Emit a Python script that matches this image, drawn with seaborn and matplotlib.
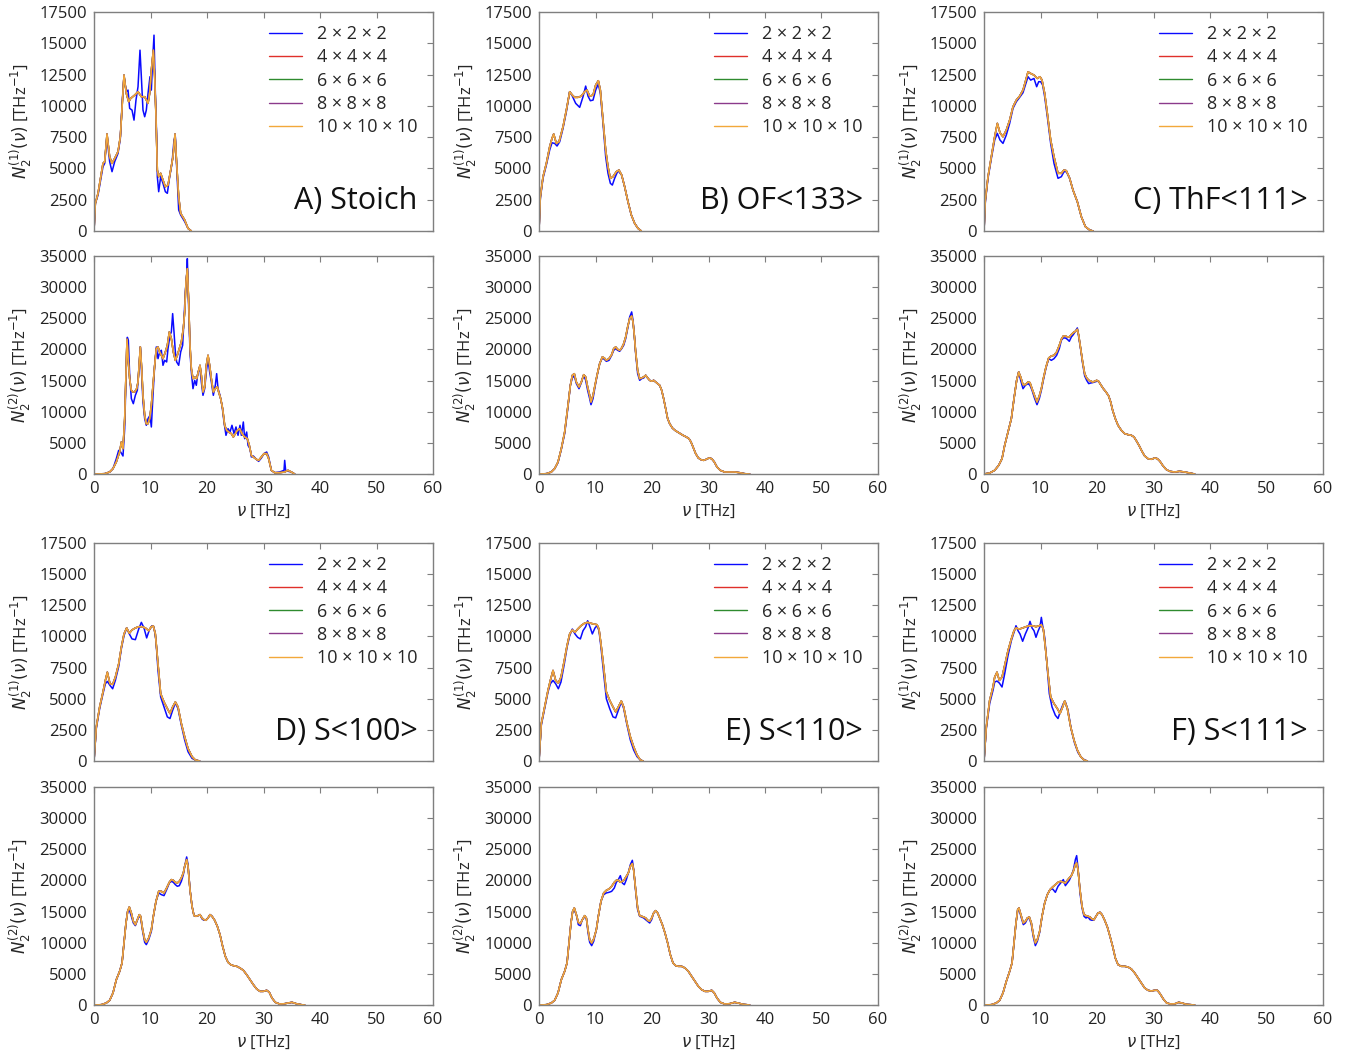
import matplotlib
matplotlib.use("Agg")
import matplotlib.pyplot as plt
import seaborn as sns

# ---------------- DATA (frequency in THz, DOS in THz^-1) ----------------
series_labels = ["2 × 2 × 2", "4 × 4 × 4", "6 × 6 × 6", "8 × 8 × 8", "10 × 10 × 10"]
panel_titles = ["A) Stoich", "B) OF<133>", "C) ThF<111>", "D) S<100>", "E) S<110>", "F) S<111>"]
x_ticks = [0, 10, 20, 30, 40, 50, 60]
n1_ticks = [0, 2500, 5000, 7500, 10000, 12500, 15000, 17500]
n2_ticks = [0, 5000, 10000, 15000, 20000, 25000, 30000, 35000]

# ---- A) Stoich ----
A1_freq_2 = [0.00,0.24,0.71,1.59,1.89,2.30,2.77,3.19,3.66,4.25,4.66,5.01,5.31,5.72,6.02,6.31,6.73,7.08,7.43,7.79,8.14,8.38,8.67,8.97,9.26,9.56,9.91,10.15,10.38,10.62,10.86,11.09,11.21,11.45,11.80,12.21,12.63,12.98,13.39,13.81,14.16,14.40,14.63,14.99,15.34,16.05,16.64,17.23]
A1_dos_2 = [0,2210,2870,5140,5400,7530,5540,4740,5540,6200,7400,10460,12330,11130,11260,9800,9660,8860,10460,11530,14450,12330,9660,9130,9660,10990,12330,11260,13660,15650,10990,7530,4340,3140,4340,3810,3140,3010,4340,5400,7270,7530,5140,1680,1280,750,210,0]
A1_freq_10 = [0.00,0.24,0.71,1.59,1.89,2.30,2.77,3.19,3.66,4.25,4.66,5.01,5.31,5.72,6.14,6.49,7.20,7.79,8.38,8.97,9.56,9.85,10.15,10.50,10.74,10.97,11.21,11.45,11.80,12.21,12.63,13.10,13.57,13.98,14.34,14.63,14.99,15.34,16.05,16.64,17.23]
A1_dos_10 = [0,2200,3010,5400,5540,7750,5940,5400,5800,6340,7530,10200,12460,10990,10330,10590,10860,11130,10730,10730,10200,10990,12860,14450,12330,9130,4870,4340,4610,4070,3540,3670,4870,5940,7750,5400,2740,1410,880,210,0]

A2_freq_2 = [0.00,1.89,2.77,3.36,3.95,4.37,4.72,5.13,5.43,5.66,5.90,6.08,6.31,6.61,6.96,7.32,7.67,8.02,8.20,8.44,8.67,8.97,9.26,9.56,9.91,10.15,10.44,10.74,11.03,11.33,11.62,11.92,12.21,12.51,12.86,13.10,13.45,13.69,13.92,14.16,14.40,14.63,14.99,15.34,15.69,15.93,16.17,16.40,16.52,16.76,16.99,17.23,17.52,17.82,18.11,18.41,18.76,19.00,19.29,19.59,19.88,20.18,20.47,20.77,21.12,21.47,21.71,21.95,22.30,22.65,23.01,23.36,23.72,24.07,24.42,24.78,25.13,25.49,25.84,26.08,26.43,26.67,27.02,27.26,27.61,27.85,28.20,28.73,29.14,29.62,30.09,30.56,30.91,31.39,31.98,32.86,33.63,33.75,33.92,34.34,34.93,35.52]
A2_dos_2 = [0,50,320,860,2460,3800,3530,2890,7280,15310,21940,21470,15850,12100,11290,12630,13440,17450,20400,15850,11560,8890,7820,8890,9420,7550,12630,17450,20400,18520,19590,19860,17450,18250,17990,20130,22270,22800,25750,22800,19590,17990,17450,19590,20660,24940,29230,31900,34580,26550,19590,16380,13700,15040,14240,16380,16920,14770,12630,13700,16380,18520,16380,14770,12630,14240,16110,13700,12630,11030,8350,6210,7280,6740,7820,6480,7550,6210,7820,6210,8350,5670,6740,4600,4070,2730,2890,2360,2030,2570,3270,3530,2730,590,210,320,590,2190,590,430,320,0]
A2_freq_10 = [0.00,1.89,2.77,3.36,3.95,4.54,4.84,5.13,5.43,5.60,5.84,6.08,6.31,6.61,6.90,7.20,7.55,7.79,8.02,8.20,8.44,8.67,8.97,9.26,9.56,9.85,10.15,10.44,10.74,11.03,11.33,11.62,11.92,12.21,12.63,12.98,13.33,13.69,14.04,14.40,14.75,15.10,15.46,15.81,16.05,16.28,16.52,16.76,16.99,17.23,17.52,17.82,18.17,18.53,18.76,19.00,19.29,19.59,19.88,20.18,20.47,20.77,21.12,21.47,21.83,22.06,22.42,22.77,23.13,23.48,23.84,24.31,24.66,25.01,25.37,25.78,26.19,26.67,27.14,27.49,27.85,28.20,28.73,29.14,29.62,30.09,30.56,30.91,31.39,31.98,32.86,33.75,34.34,34.93,35.52]
A2_dos_10 = [0,50,320,860,1930,3530,5140,4070,8890,14240,21630,17990,15310,13440,13170,13170,13700,14770,17990,20400,16920,12630,9420,8080,8080,8890,11030,14240,17450,20130,20400,19590,19060,18520,19590,20660,22800,21730,19590,18250,19060,20130,21200,23340,26020,30830,32970,27620,20660,16920,15310,15580,15310,16650,17450,15850,13170,13970,17450,19060,17450,15310,13170,13700,13970,13170,12100,10490,7820,7010,6740,6480,5940,6480,7010,7280,6480,5940,5670,4600,3000,2730,2360,2190,2730,3270,3270,2460,590,210,210,320,590,320,0]

# ---- B) OF<133> ----
B1_freq_2 = [0.00,0.24,0.71,1.30,1.89,2.30,2.77,3.19,3.66,4.25,4.84,5.43,5.90,6.49,7.20,7.79,8.26,8.67,9.09,9.56,10.03,10.50,10.86,11.33,11.80,12.21,12.63,12.98,13.39,13.98,14.63,15.16,15.75,16.34,16.93,17.52,18.11]
B1_dos_2 = [0,2610,4210,5270,6470,7050,7000,6790,7130,8200,9530,11130,10780,10200,9880,10730,11580,10780,10410,10460,11260,11740,10990,8600,5940,4610,3810,3670,4210,4820,4470,3540,2340,1280,610,210,0]
B1_freq_10 = [0.00,0.24,0.71,1.30,1.89,2.30,2.60,3.07,3.54,4.25,4.84,5.43,5.90,6.31,6.90,7.49,8.08,8.50,8.97,9.56,10.03,10.50,10.86,11.33,11.80,12.21,12.63,13.10,13.69,14.16,14.63,15.16,15.75,16.34,16.93,17.52,18.11]
B1_dos_10 = [0,2740,4340,5400,6730,7400,7750,7000,7130,8330,9660,11130,10860,10680,10680,10780,11130,11260,10780,10860,11660,12010,11260,8860,6470,5140,4210,4340,4740,4870,4470,3540,2340,1280,610,210,0]

B2_freq = [0.00,1.30,2.18,2.77,3.36,3.95,4.54,5.13,5.55,5.90,6.25,6.61,7.08,7.49,7.91,8.26,8.61,8.97,9.20,9.56,9.91,10.27,10.74,11.21,11.56,11.92,12.39,12.86,13.22,13.57,13.92,14.28,14.63,14.99,15.34,15.69,16.05,16.40,16.64,16.87,17.11,17.46,17.82,18.17,18.53,18.88,19.23,19.59,19.94,20.29,20.65,21.00,21.36,21.71,22.06,22.42,22.77,23.13,23.60,24.07,24.54,25.01,25.49,26.08,26.55,26.90,27.26,27.73,28.20,28.67,29.14,29.62,30.09,30.56,31.03,31.50,32.09,32.86,33.75,34.63,35.52,36.40,37.29]
B2_dos_2 = [0,50,320,860,1820,3960,6480,10760,14240,15420,15740,14510,13700,14670,15850,15040,13440,12100,11130,12100,13970,15740,17720,18630,18410,18090,18250,19060,19860,20130,19860,19700,20130,20660,21730,23340,25210,26020,24680,22270,19320,16110,15040,15310,15420,15850,15420,15040,14880,15040,14770,14510,14240,13440,12100,10490,8890,8080,7390,7010,6740,6480,6210,5940,5670,5140,4340,3270,2570,2300,2190,2360,2570,2460,1930,1120,590,320,320,320,210,50,0]
B2_dos_10 = [0,50,320,860,1930,4070,6740,11030,14240,15850,16110,14770,13970,14770,15950,15580,13970,12630,11560,12630,14240,15850,17720,18790,18630,18250,18520,19160,20130,20400,20020,19860,20230,20930,22000,23610,24940,25370,24410,22270,19590,16650,15310,15420,15580,15850,15420,15040,14880,15040,14770,14510,14240,13440,12100,10490,8890,8080,7390,7010,6740,6480,6210,5940,5670,5140,4340,3270,2570,2300,2190,2360,2570,2460,1930,1120,590,320,320,320,210,50,0]

# ---- C) ThF<111> ----
C1_freq_2 = [0.00,0.24,0.71,1.30,1.89,2.36,2.83,3.36,3.95,4.54,5.13,5.72,6.31,6.90,7.32,7.79,8.26,8.85,9.32,9.68,10.03,10.38,10.74,11.21,11.80,12.39,13.10,13.69,14.16,14.57,15.16,15.75,16.52,17.23,17.94,18.70,19.29]
C1_dos_2 = [0,2340,4210,5800,7270,7800,7270,7000,7670,8600,9800,10330,10680,11050,11660,12330,12060,12190,11530,11930,11930,11660,10730,9130,7000,5400,4210,4340,4740,4740,4210,3270,2340,1140,350,80,0]
C1_freq_10 = [0.00,0.24,0.71,1.30,1.89,2.36,2.83,3.36,3.95,4.54,5.13,5.72,6.31,6.90,7.32,7.79,8.26,8.85,9.44,9.91,10.27,10.74,11.21,11.80,12.39,13.10,13.69,14.16,14.57,15.16,15.75,16.52,17.23,17.94,18.70,19.29]
C1_dos_10 = [0,2480,4340,5940,7530,8600,7850,7530,8070,8860,9930,10460,10780,11260,11930,12720,12590,12460,12190,12330,12060,11000,9400,7270,5940,4610,4610,4870,4820,4210,3270,2340,1140,350,80,0]

C2_freq = [0.00,1.00,1.89,2.60,3.19,3.66,4.25,4.84,5.31,5.78,6.14,6.49,6.90,7.32,7.79,8.14,8.50,8.97,9.38,9.79,10.15,10.50,10.97,11.45,11.92,12.39,12.86,13.33,13.69,14.04,14.40,14.75,15.10,15.46,15.81,16.17,16.52,16.76,17.11,17.46,17.82,18.17,18.53,18.88,19.23,19.59,19.94,20.29,20.65,21.12,21.59,22.06,22.42,22.77,23.24,23.72,24.31,24.90,25.49,26.08,26.55,27.02,27.49,27.96,28.44,29.03,29.62,30.21,30.68,31.15,31.62,32.21,32.86,33.75,34.63,35.52,36.40,37.29]
C2_dos_2 = [0,160,590,1390,2460,4600,6740,8890,12100,15040,16380,15040,13700,14240,14510,14240,13440,12100,11130,12100,13440,15040,17020,18520,18250,18520,19060,20130,21470,21840,21840,21630,21300,22000,22380,22910,23450,22000,20020,17720,15740,15040,14510,14610,14670,14770,14880,14880,14350,13700,13170,12530,11560,10220,8890,7820,7010,6480,6320,6210,5940,5250,4500,3640,2890,2460,2360,2570,2460,2030,1390,750,430,320,430,320,160,0]
C2_dos_10 = [0,160,590,1390,2460,4600,6740,8890,12100,15040,16380,15580,14350,14350,14770,14670,13700,12530,11560,12530,13700,15310,17180,18630,18950,19060,19590,20660,21630,22160,22160,22000,22000,22380,22700,22910,23230,22270,20130,17990,16110,15420,15040,14930,14770,14880,15040,14880,14350,13700,13170,12530,11560,10220,8890,7820,7010,6480,6320,6210,5940,5250,4500,3640,2890,2460,2360,2570,2460,2030,1390,750,430,320,430,320,160,0]

# ---- D) S<100> ----
D1_freq_2 = [0.00,0.41,1.00,1.59,2.01,2.36,2.83,3.30,3.78,4.37,4.84,5.31,5.78,6.25,6.73,7.32,7.91,8.38,8.85,9.32,9.79,10.27,10.62,10.97,11.33,11.80,12.39,12.98,13.45,13.92,14.40,14.87,15.46,16.05,16.64,17.35,17.94,18.70]
D1_dos_2 = [0,2610,4210,5400,6200,6390,6070,5800,6470,7590,9000,10060,10680,10200,9800,9740,10590,11130,10680,9880,10520,10860,10730,9660,7270,5140,4340,3540,3410,4070,4660,4210,2870,1680,750,210,80,0]
D1_freq_10 = [0.00,0.41,1.00,1.59,2.01,2.36,2.83,3.30,3.78,4.37,4.84,5.31,5.78,6.25,6.73,7.32,7.91,8.50,9.09,9.68,10.15,10.50,10.86,11.33,11.80,12.39,12.98,13.45,13.92,14.40,14.87,15.46,16.05,16.64,17.35,17.94,18.70]
D1_dos_10 = [0,2740,4340,5540,6470,7130,6200,6150,6730,7800,9130,10200,10680,10250,10520,10680,10780,10780,10680,10460,10780,10840,10200,7800,5400,4740,4210,3810,4340,4740,4340,3010,1940,1010,350,80,0]

D2_freq = [0.00,1.30,2.18,2.77,3.36,3.95,4.54,4.96,5.31,5.66,5.96,6.25,6.61,6.96,7.32,7.67,8.02,8.26,8.61,8.97,9.26,9.68,10.15,10.50,10.97,11.45,11.92,12.39,12.86,13.33,13.69,14.04,14.40,14.75,15.10,15.46,15.81,16.05,16.40,16.64,16.99,17.35,17.70,18.05,18.41,18.76,19.12,19.47,19.82,20.18,20.53,20.89,21.36,21.83,22.30,22.77,23.24,23.72,24.19,24.66,25.25,25.84,26.43,27.02,27.61,28.20,28.79,29.38,29.97,30.56,31.03,31.50,32.09,32.86,33.75,34.34,35.04,35.81,36.70,37.29]
D2_dos_2 = [0,50,320,750,1930,4070,5410,6740,9960,13170,15040,15310,14240,13170,12740,13600,14350,13970,11830,10060,9690,10490,11830,14130,16650,17990,17720,17560,18520,19590,19860,19700,19320,19060,19160,19860,20930,22270,23770,22540,18520,15850,14350,14240,14350,14510,13810,13600,13700,13970,14510,14240,13600,12630,11290,9420,7820,6850,6480,6320,6210,5940,5570,4870,4070,3270,2570,2190,2190,2360,2030,1120,430,160,210,320,430,210,50,0]
D2_dos_10 = [0,50,320,750,1930,4070,5410,6740,9960,13170,15040,15740,14770,13440,12900,13700,14510,14240,12100,10490,10060,10760,12100,14240,16650,18250,18250,17990,18790,19700,20130,20020,19700,19590,19860,20400,21200,22270,23340,22270,18520,15850,14350,14240,14350,14510,13970,13700,13600,13970,14510,14240,13600,12630,11290,9420,7820,6850,6480,6320,6210,5940,5570,4870,4070,3270,2570,2190,2190,2360,2030,1120,430,160,210,320,430,210,50,0]

# ---- E) S<110> ----
E1_freq_2 = [0.00,0.41,1.00,1.59,2.01,2.48,2.95,3.42,3.89,4.48,4.96,5.43,5.90,6.37,6.84,7.32,7.79,8.26,8.61,9.09,9.44,9.91,10.27,10.62,10.97,11.45,11.92,12.51,13.10,13.57,14.04,14.57,14.99,15.58,16.17,16.76,17.35,17.94,18.41]
E1_dos_2 = [0,2870,4210,5540,6200,6470,6200,5800,6340,7800,9130,10060,10590,10200,9930,9800,10460,10780,11260,10680,10200,10680,10860,10460,9130,7000,5000,4210,3540,3460,4070,4740,4210,2870,1680,880,350,80,0]
E1_freq_10 = [0.00,0.41,1.00,1.59,2.01,2.48,2.95,3.42,3.89,4.48,4.96,5.43,5.90,6.37,6.84,7.43,8.02,8.61,9.20,9.79,10.27,10.62,10.97,11.45,11.92,12.51,13.10,13.57,14.04,14.57,14.99,15.58,16.17,16.76,17.35,17.94,18.41]
E1_dos_10 = [0,3010,4340,5670,6470,7270,6470,6260,6730,8070,9260,10200,10520,10330,10590,10860,11050,11130,11050,10990,10940,10590,9400,7530,5540,4870,4340,3940,4340,4820,4340,3010,1940,1140,480,80,0]

E2_freq = [0.00,1.30,2.18,2.77,3.36,3.95,4.54,4.96,5.31,5.66,5.96,6.25,6.61,6.96,7.32,7.67,8.08,8.38,8.67,8.97,9.32,9.68,10.15,10.50,10.97,11.45,11.92,12.39,12.86,13.33,13.69,14.04,14.40,14.75,15.10,15.46,15.81,16.17,16.52,16.76,17.11,17.46,17.82,18.17,18.53,18.88,19.23,19.59,19.94,20.29,20.65,21.00,21.36,21.83,22.30,22.77,23.24,23.72,24.19,24.66,25.25,25.84,26.43,27.02,27.61,28.20,28.79,29.38,29.97,30.56,31.03,31.50,32.09,32.86,33.75,34.63,35.22,36.11,37.29]
E2_dos_2 = [0,50,320,750,1930,4070,5410,6740,9960,13170,15040,15200,14510,12900,12740,13700,14130,13970,11670,10060,9530,10220,12100,14240,16650,17720,17990,18090,18250,18790,19700,20130,20770,19590,19320,20130,21200,22540,23230,21730,18250,15310,14240,14130,13970,13700,13440,13170,13700,14770,15150,14770,13970,12900,11560,9960,8080,6740,6320,6210,6210,5940,5410,4600,3800,3000,2460,2190,2190,2360,1930,1120,430,160,210,430,320,110,0]
E2_dos_10 = [0,50,320,750,1930,4070,5410,6740,9960,13170,15040,15580,14510,13280,13060,13700,14350,13970,12100,10490,9960,10600,12100,14240,16650,17990,18410,18630,19060,19700,20020,20020,19700,19860,20130,20660,21200,22270,22700,21630,18520,15580,14350,14240,14130,13970,13600,13440,13970,14770,15150,14770,13970,12900,11560,9960,8080,6740,6320,6210,6210,5940,5410,4600,3800,3000,2460,2190,2190,2360,1930,1120,430,160,210,430,320,110,0]

# ---- F) S<111> ----
F1_freq_2 = [0.00,0.41,1.00,1.59,1.89,2.30,2.71,3.19,3.66,4.25,4.84,5.31,5.66,6.02,6.37,6.84,7.32,7.79,8.14,8.50,8.85,9.20,9.56,9.91,10.15,10.38,10.74,11.09,11.56,12.04,12.63,13.10,13.57,14.04,14.40,14.87,15.46,16.05,16.64,17.23,17.82,18.29]
F1_dos_2 = [0,2610,4610,5670,6340,6420,6260,5940,7000,8470,9660,10330,10860,10460,10200,9610,10200,10680,11210,10680,10460,9930,10410,10780,11530,10860,9930,8070,5400,4340,3670,3410,4070,4610,4740,4070,2480,1410,670,290,80,0]
F1_freq_10 = [0.00,0.41,1.00,1.59,1.89,2.30,2.71,3.19,3.66,4.25,4.84,5.31,5.66,6.25,6.84,7.43,8.02,8.61,9.20,9.79,10.15,10.50,10.86,11.33,11.80,12.39,12.98,13.45,13.92,14.28,14.75,15.34,15.93,16.52,17.11,17.70,18.29]
F1_dos_10 = [0,2740,4870,5940,6730,7130,6470,6730,7670,8860,9800,10460,10680,10590,10680,10780,10860,10860,10780,10860,10940,10590,9130,7000,5140,4610,4210,3810,4340,4820,4210,2740,1680,880,350,80,0]

F2_freq = [0.00,1.30,2.18,2.77,3.36,3.95,4.54,4.96,5.31,5.66,5.96,6.19,6.61,6.96,7.32,7.67,8.02,8.38,8.73,9.09,9.44,9.85,10.27,10.74,11.21,11.68,12.15,12.63,13.10,13.57,14.04,14.40,14.75,15.10,15.46,15.81,16.17,16.40,16.64,16.99,17.35,17.70,18.05,18.41,18.76,19.12,19.47,19.82,20.18,20.53,20.89,21.36,21.83,22.30,22.77,23.24,23.72,24.31,24.90,25.49,26.08,26.67,27.26,27.85,28.44,29.03,29.62,30.21,30.68,31.15,31.74,32.33,33.04,33.86,34.45,35.04,35.81,37.29]
F2_dos_2 = [0,50,320,750,1930,3800,5410,6740,9960,13170,15040,15420,13970,12900,13170,13810,13970,12900,10920,9530,10220,11670,14240,16380,17720,18520,18630,18090,19060,19590,20130,19160,19590,20020,20770,21630,23340,23980,22000,17990,15580,14240,13970,14130,13700,13600,13700,14240,14770,14880,14510,13600,12530,11030,9420,7550,6480,6210,6210,6100,5780,5140,4340,3530,2730,2360,2250,2360,2360,1820,960,320,160,210,430,320,110,0]
F2_dos_10 = [0,50,320,750,1930,3800,5410,6740,9960,13170,15310,15580,14240,13170,13440,13970,14130,13170,11290,9960,10490,11830,14240,16380,17720,18520,18950,19320,19700,19860,19700,19590,20020,20400,20770,21470,22540,22800,21730,18520,15850,14510,14350,14240,14130,13810,13700,14240,14770,14880,14510,13600,12530,11030,9420,7550,6480,6210,6210,6100,5780,5140,4340,3530,2730,2360,2250,2360,2360,1820,960,320,160,210,430,320,110,0]

# ---------------- assemble (4,6,8 supercells coincide with converged curve) ----------------
N1_sets = [
    (A1_freq_2, A1_dos_2, A1_freq_10, A1_dos_10),
    (B1_freq_2, B1_dos_2, B1_freq_10, B1_dos_10),
    (C1_freq_2, C1_dos_2, C1_freq_10, C1_dos_10),
    (D1_freq_2, D1_dos_2, D1_freq_10, D1_dos_10),
    (E1_freq_2, E1_dos_2, E1_freq_10, E1_dos_10),
    (F1_freq_2, F1_dos_2, F1_freq_10, F1_dos_10),
]
N2_sets = [
    (A2_freq_2, A2_dos_2, A2_freq_10, A2_dos_10),
    (B2_freq, B2_dos_2, B2_freq, B2_dos_10),
    (C2_freq, C2_dos_2, C2_freq, C2_dos_10),
    (D2_freq, D2_dos_2, D2_freq, D2_dos_10),
    (E2_freq, E2_dos_2, E2_freq, E2_dos_10),
    (F2_freq, F2_dos_2, F2_freq, F2_dos_10),
]

colors = ["#0a0aff", "#e0302a", "#2e8b2e", "#8b3a8b", "#f2a83a"]

sns.set_style("white")
plt.rcParams['font.family'] = ['Open Sans', 'DejaVu Sans']
plt.rcParams['mathtext.fontset'] = 'dejavusans'

W, H = 1352, 1057
fig = plt.figure(figsize=(W / 100, H / 100), dpi=100)

col_left = [94, 539, 984]
axw = 339
rows = [(12, 231), (256, 474), (543, 761), (787, 1005)]

spine_col = "#7f7f7f"

def make_ax(x0, ytop, ybot):
    return fig.add_axes([x0 / W, 1 - ybot / H, axw / W, (ybot - ytop) / H])

for p in range(6):
    col = p % 3
    blk = p // 3
    r1 = rows[blk * 2]
    r2 = rows[blk * 2 + 1]
    ax1 = make_ax(col_left[col], *r1)
    ax2 = make_ax(col_left[col], *r2)

    for ax, sets, yt, ylab in [(ax1, N1_sets[p], n1_ticks, r"$N_2^{(1)}(\nu)$ [THz$^{-1}$]"),
                                (ax2, N2_sets[p], n2_ticks, r"$N_2^{(2)}(\nu)$ [THz$^{-1}$]")]:
        f2, d2, f10, d10 = sets
        series = [(f2, d2), (f10, d10), (f10, d10), (f10, d10), (f10, d10)]
        for i, (ff, dd) in enumerate(series):
            sns.lineplot(x=ff, y=dd, ax=ax, color=colors[i], lw=1.1,
                         label=series_labels[i] if ax is ax1 else None,
                         estimator=None, sort=False, legend=(ax is ax1))
        ax.set_xlim(0, 60)
        ax.set_ylim(yt[0], yt[-1])
        ax.set_xticks(x_ticks)
        ax.set_yticks(yt)
        ax.tick_params(direction='in', length=4, width=0.8, top=True, right=True,
                       labelsize=12, colors='#222222', color=spine_col, pad=5)
        for s in ax.spines.values():
            s.set_color(spine_col)
            s.set_linewidth(1.0)
        ax.set_ylabel(ylab, fontsize=12, labelpad=4)

    ax1.set_xticklabels([])
    ax1.set_xlabel("")
    ax2.set_xlabel(r"$\nu$ [THz]", fontsize=12, labelpad=4)

    leg = ax1.legend(loc='upper right', bbox_to_anchor=(0.955, 0.94), frameon=False,
                     fontsize=13, handlelength=1.8, handletextpad=0.85, labelspacing=0.29,
                     borderaxespad=0.0, borderpad=0.0)
    for lh in leg.get_lines():
        lh.set_linewidth(1.0)
    ax1.text(0.955, 0.135, panel_titles[p], transform=ax1.transAxes, ha='right', va='center',
             fontsize=22, color='#111111')

fig.savefig("out.png", dpi=100)
